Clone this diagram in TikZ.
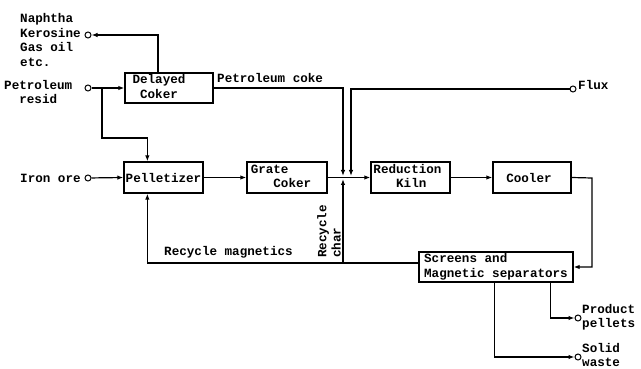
\documentclass[tikz,border=0pt]{standalone}
\usepackage{fontspec}
\setmainfont{Liberation Mono}
\usetikzlibrary{arrows.meta}
\begin{document}
\begin{tikzpicture}[x=1pt,y=-1pt,
  every node/.style={font=\fontsize{12.6}{14.5}\selectfont\bfseries},
  box/.style={draw,line width=1.3pt,inner sep=0pt,align=center},
  port/.style={draw,circle,line width=1pt,inner sep=0pt,minimum size=6pt},
  lbl/.style={inner sep=0pt,align=left},
  arr/.style={line width=1.2pt,-{Latex[length=6pt,width=4.5pt]}},
  ln/.style={line width=1.2pt}]
\useasboundingbox (0,0) rectangle (641,369);
% boxes
\node[box,minimum width=88pt,minimum height=30pt] (dc) at (169,88) {\begin{tabular}{@{}l@{\hspace{20pt}}}Delayed\\\phantom{a}Coker\end{tabular}};
\node[box,minimum width=79pt,minimum height=31pt] (pel) at (163.5,177.5) {Pelletizer};
\node[box,minimum width=80pt,minimum height=31pt] (gc) at (287,177.5) {\begin{tabular}{@{}l@{\hspace{12pt}}}Grate\\\phantom{Gra}Coker\end{tabular}};
\node[box,minimum width=79pt,minimum height=31pt] (rk) at (410.5,177.5) {\begin{tabular}{@{}l@{\hspace{6pt}}}Reduction\\\phantom{Red}Kiln\end{tabular}};
\node[box,minimum width=78pt,minimum height=31pt] (cool) at (532,177.5) {Cooler\hspace*{6pt}};
\node[box,minimum width=154pt,minimum height=30pt,align=left] (scr) at (496,267) {Screens and\\Magnetic separators};
% ports
\node[port] (kero) at (88,35) {};
\node[port] (resid) at (88,88) {};
\node[port] (iron) at (88,178) {};
\node[port] (flux) at (573,89) {};
\node[port] (prod) at (578,318) {};
\node[port] (solid) at (578,357) {};
% labels
\node[lbl,anchor=west] (lnap) at (20,40) {Naphtha\\Kerosine\\Gas oil\\etc.};
\node[lbl,anchor=west] (lres) at (4,92) {Petroleum\\\phantom{ab}resid};
\node[lbl,anchor=west] (liron) at (20,178) {Iron ore};
\node[lbl,anchor=west] (lflux) at (578,85) {Flux};
\node[lbl,anchor=west] (lprod) at (582,317) {Product\\pellets};
\node[lbl,anchor=west] (lsolid) at (582,355) {Solid\\waste};
\node[lbl,anchor=west] (lcoke) at (217,78) {Petroleum coke};
\node[lbl,anchor=west] (lrm) at (164,252) {Recycle magnetics};
\node[lbl,anchor=west,rotate=90] (lrc1) at (323,258) {Recycle};
\node[lbl,anchor=west,rotate=90] (lrc2) at (336,258) {char};
% coordinates
\coordinate (br) at (102,88);
\coordinate (brk) at (102,138);
\coordinate (j1) at (343,176);
\coordinate (j2) at (351,176);
\coordinate (rc) at (343,263);
\coordinate (rct) at (343,179);
\coordinate (cc) at (592,178);
% connectors
\draw[arr] ([xshift=-11pt]dc.north) |- (kero);
\draw[arr] (resid) -- (dc.west);
\draw[arr] (br) -- (brk) -| ([xshift=24pt]pel.north west);
\draw[arr] (iron) -- (pel.west);
\draw[arr] (pel) -- (gc);
\draw[arr] (gc.east) -- (rk.west);
\draw[arr] (dc.east) -| (j1);
\draw[arr] (flux) -| (j2);
\draw[arr] (rc) -- (rct);
\draw[arr] ([yshift=4pt]scr.west) -| ([xshift=24pt]pel.south west);
\draw[arr] (rk) -- (cool);
\draw[arr] (cool.east) -- (cc) |- (scr.east);
\draw[arr] ([xshift=-23pt]scr.south east) |- (prod);
\draw[arr] ([xshift=76pt]scr.south west) |- (solid);
\end{tikzpicture}
\end{document}
